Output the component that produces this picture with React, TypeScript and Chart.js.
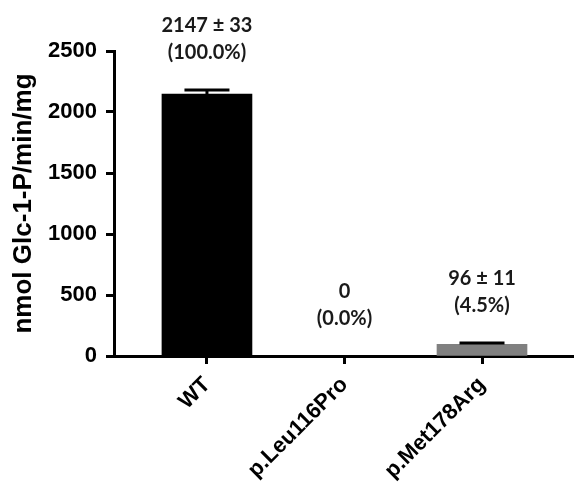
import React, { useEffect, useRef } from "react";
import { Chart, registerables } from "chart.js";

Chart.register(...registerables);

const categories = ["WT", "p.Leu116Pro", "p.Met178Arg"];
const activity = [2147, 0, 96];
const sem = [33, 0, 11];
const valueLabels = ["2147 ± 33", "0", "96 ± 11"];
const percentLabels = ["(100.0%)", "(0.0%)", "(4.5%)"];
const barColors = ["#000000", "#000000", "#808080"];
const yTicks = [0, 500, 1000, 1500, 2000, 2500];
const yTitle = "nmol Glc-1-P/min/mg";

const errorAndLabelPlugin = {
  id: "errorAndLabels",
  afterDatasetsDraw(chart: any) {
    const ctx = chart.ctx;
    const meta = chart.getDatasetMeta(0);
    const yScale = chart.scales.y;
    meta.data.forEach((bar: any, i: number) => {
      const x = bar.x;
      const yTop = yScale.getPixelForValue(activity[i] + sem[i]);
      if (sem[i] > 0) {
        const yBase = yScale.getPixelForValue(activity[i]);
        const half = bar.width / 4;
        ctx.save();
        ctx.strokeStyle = "#000";
        ctx.lineWidth = 3;
        ctx.beginPath();
        ctx.moveTo(x, yBase);
        ctx.lineTo(x, yTop);
        ctx.moveTo(x - half, yTop);
        ctx.lineTo(x + half, yTop);
        ctx.stroke();
        ctx.restore();
      }
      ctx.save();
      ctx.font = "bold 20px Lato";
      ctx.textAlign = "center";
      ctx.textBaseline = "alphabetic";
      ctx.fillStyle = "#1a1a1a";
      ctx.fillText(percentLabels[i], x, yTop - 31);
      ctx.fillText(valueLabels[i], x, yTop - 58);
      ctx.restore();
    });
  },
};

export default function App() {
  const canvasRef = useRef<HTMLCanvasElement>(null);

  useEffect(() => {
    if (!canvasRef.current) return;
    const chart = new Chart(canvasRef.current, {
      type: "bar",
      data: {
        datasets: [
          {
            data: activity.map((v, i) => ({ x: i, y: v })),
            backgroundColor: barColors,
            borderWidth: 0,
            barThickness: 90,
          },
        ],
      },
      options: {
        animation: false,
        responsive: true,
        maintainAspectRatio: false,
        layout: { padding: { top: 51, right: 0, left: 0, bottom: 0 } },
        plugins: { legend: { display: false }, tooltip: { enabled: false } },
        scales: {
          x: {
            type: "linear",
            offset: false,
            min: -0.676,
            max: 2.669,
            afterBuildTicks: (scale: any) => {
              scale.ticks = categories.map((_, i) => ({ value: i }));
            },
            afterFit: (scale: any) => {
              scale.height = 129;
            },
            border: { display: true, width: 3, color: "#000" },
            grid: {
              offset: false,
              drawOnChartArea: false,
              drawTicks: true,
              tickLength: 8,
              tickWidth: 3,
              tickColor: "#000",
              color: "#000",
            },
            ticks: {
              autoSkip: false,
              minRotation: 45,
              maxRotation: 45,
              padding: 8,
              color: "#000",
              font: { family: "Liberation Sans", size: 22, weight: "bold" },
              callback: (v: any) => categories[v] ?? "",
            },
          },
          y: {
            min: 0,
            max: 2500,
            afterBuildTicks: (scale: any) => {
              scale.ticks = yTicks.map((v) => ({ value: v }));
            },
            afterFit: (scale: any) => {
              scale.width = 114;
            },
            border: { display: true, width: 3, color: "#000" },
            grid: {
              drawOnChartArea: false,
              drawTicks: true,
              tickLength: 8,
              tickWidth: 3,
              tickColor: "#000",
              color: "#000",
            },
            ticks: {
              padding: 9,
              color: "#000",
              font: { family: "Liberation Sans", size: 22, weight: "bold" },
              callback: (v: any) => String(v),
            },
            title: {
              display: true,
              text: yTitle,
              color: "#000",
              padding: { top: 8, bottom: 0 },
              font: { family: "Liberation Sans", size: 26, weight: "bold" },
            },
          },
        },
      },
      plugins: [errorAndLabelPlugin],
    });
    return () => chart.destroy();
  }, []);

  return (
    <div style={{ position: "fixed", top: 0, left: 0, width: 574, height: 485, background: "#fff" }}>
      <canvas ref={canvasRef} />
    </div>
  );
}
